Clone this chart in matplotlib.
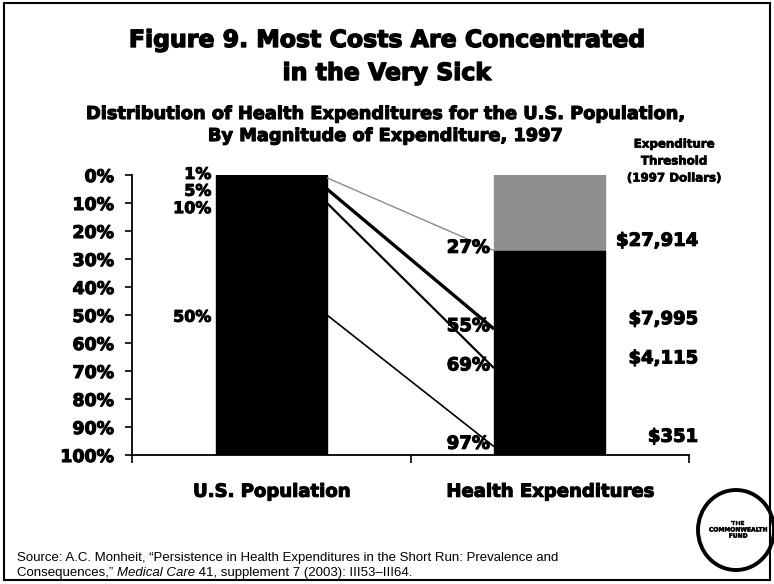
import matplotlib
matplotlib.use('Agg')
import matplotlib.pyplot as plt
import matplotlib.patheffects as pe
from matplotlib.patches import Rectangle, Ellipse

# data
categories = ['U.S. Population', 'Health Expenditures']
pop_cum = [1, 5, 10, 50, 100]          # cumulative share of population (top down)
exp_cum = [27, 55, 69, 97, 100]        # cumulative share of expenditures
thresholds = ['$27,914', '$7,995', '$4,115', '$351']
y_ticks = list(range(0, 101, 10))

plt.rcParams['font.family'] = ['DejaVu Sans']
plt.rcParams['font.weight'] = 'bold'

W, H = 774, 584
fig = plt.figure(figsize=(W / 100, H / 100), dpi=100)
fig.patch.set_facecolor('white')


def px(x, y):
    return x / W, 1 - y / H


def heavy(w=0.8):
    # fake a black-weight face by stroking the glyph outlines
    return [pe.withStroke(linewidth=w, foreground='black')]


ax = fig.add_axes([132 / W, 1 - 455 / H, (689 - 132) / W, (455 - 175) / H])
ax.set_facecolor('none')

bar_w = 0.4
x_pop, x_exp = 0.5, 1.5

# stacked segments, top (0%) downward
prev = 0
for v in pop_cum:
    ax.bar(x_pop, v - prev, bottom=prev, width=bar_w, color='black', edgecolor='black', lw=1)
    prev = v

seg_colors = ['#8f8f8f', 'black', 'black', 'black', 'black']
prev = 0
for v, c in zip(exp_cum, seg_colors):
    ax.bar(x_exp, v - prev, bottom=prev, width=bar_w, color=c, edgecolor=c, lw=1)
    prev = v

# connector lines between the bars
line_styles = [('#8a8a8a', 1.0), ('black', 2.4), ('black', 1.6), ('black', 1.2)]
for i, (c, lw) in enumerate(line_styles):
    ax.plot([x_pop + bar_w / 2, x_exp - bar_w / 2], [pop_cum[i], exp_cum[i]],
            color=c, lw=lw, solid_capstyle='butt')

# labels next to the population bar
pop_offsets = [-1.2, 0.8, 2.0, 0.8]
for v, off in zip(pop_cum[:4], pop_offsets):
    ax.text(x_pop - bar_w / 2 - 0.015, v + off, f'{v}%', ha='right', va='center',
            fontsize=11.5, fontweight='bold', path_effects=heavy(0.7))

# labels left of the expenditure bar
for v in exp_cum[:4]:
    ax.text(x_exp - bar_w / 2 - 0.015, v - 1.0, f'{v}%', ha='right', va='center',
            fontsize=13, fontweight='bold', path_effects=heavy())

# expenditure thresholds
for v, t in zip(exp_cum[:4], thresholds):
    ax.text(2.032, v - 3.5, t, ha='right', va='center', fontsize=13,
            fontweight='bold', clip_on=False, path_effects=heavy())

ax.text(*px(674, 161), 'Expenditure\nThreshold\n(1997 Dollars)', transform=fig.transFigure,
        ha='center', va='center', fontsize=8.5, fontweight='bold', linespacing=1.4,
        path_effects=heavy(0.5))

ax.set_xlim(0, 2)
ax.set_ylim(100, 0)
ax.set_yticks(y_ticks)
ax.set_yticklabels([f'{t}%' for t in y_ticks], fontsize=12.5, fontweight='bold')
for lab in ax.get_yticklabels():
    lab.set_path_effects(heavy())
ax.set_xticks([0, 1, 2])
ax.set_xticklabels([])
ax.set_xticks([x_pop, x_exp], categories, minor=True)
ax.tick_params(axis='y', direction='out', length=5, width=1.2, pad=8)
ax.tick_params(axis='x', which='major', direction='out', length=6, width=1.2)
ax.tick_params(axis='x', which='minor', length=0, pad=20, labelsize=13)
for lab in ax.get_xticklabels(minor=True):
    lab.set_fontweight('bold')
    lab.set_path_effects(heavy())
for s in ['top', 'right']:
    ax.spines[s].set_visible(False)
for s in ['left', 'bottom']:
    ax.spines[s].set_linewidth(1.3)

# titles
title_kw = dict(ha='center', va='baseline', fontsize=17, fontweight='bold', path_effects=heavy(1.0))
fig.text(*px(387, 47), 'Figure 9. Most Costs Are Concentrated', **title_kw)
fig.text(*px(387, 80), 'in the Very Sick', **title_kw)
sub_kw = dict(ha='center', va='baseline', fontsize=12.8, fontweight='bold', path_effects=heavy(0.8))
fig.text(*px(385, 119), 'Distribution of Health Expenditures for the U.S. Population,', **sub_kw)
fig.text(*px(385, 141), 'By Magnitude of Expenditure, 1997', **sub_kw)

# source note
src_font = dict(fontsize=9.5, family='Liberation Sans', fontweight='normal', va='baseline')
fig.text(*px(17, 561), 'Source: A.C. Monheit, \u201cPersistence in Health Expenditures in the Short Run: Prevalence and',
         **src_font)
renderer = fig.canvas.get_renderer()
parts = [('Consequences,\u201d ', 'normal'), ('Medical Care', 'italic'),
         (' 41, supplement 7 (2003): III53\u2013III64.', 'normal')]
x0 = 17
for txt, style in parts:
    t = fig.text(*px(x0, 576), txt, style=style, **src_font)
    x0 += t.get_window_extent(renderer).width

# logo
fig.patches.append(Ellipse(px(736, 530), 76 / W, 80 / H, transform=fig.transFigure,
                           fill=False, lw=2.8, ec='black'))
fig.text(*px(738, 530), 'THE\nCOMMONWEALTH\nFUND', ha='center', va='center',
         fontsize=4.3, fontweight='bold', linespacing=1.3, path_effects=heavy(0.3))

# outer frame
fig.patches.append(Rectangle(px(4, 580), 766 / W, 577 / H, transform=fig.transFigure,
                             fill=False, lw=1.5, ec='black'))

fig.savefig('out.png', dpi=100)
